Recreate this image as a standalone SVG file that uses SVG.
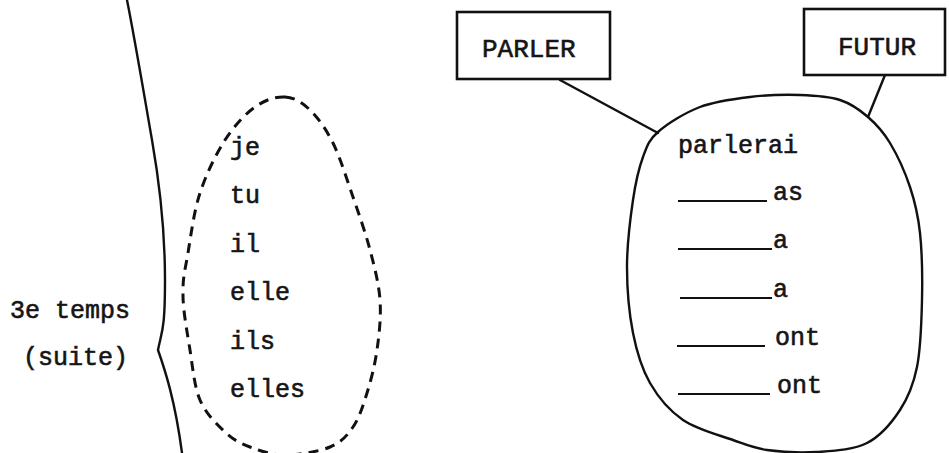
<svg xmlns="http://www.w3.org/2000/svg" width="949" height="453" viewBox="0 0 949 453">
<style>
  .t { font-family: "Liberation Mono", "Courier New", monospace; font-size: 25px; fill: #151515; stroke: #151515; stroke-width: 0.6; }
  .ln { fill: none; stroke: #111; stroke-width: 2.4; stroke-linecap: round; stroke-linejoin: round; }
  .dash { fill: none; stroke: #111; stroke-width: 3; stroke-dasharray: 10 7; stroke-linecap: butt; }
  .box { fill: #fff; stroke: #111; stroke-width: 2.6; }
  .blank { stroke: #111; stroke-width: 2; }
</style>
<rect width="949" height="453" fill="#fff"/>

<g id="bracket">
  <path class="ln" d="M127,0 C135,40 145,100 152,140 S165,230 165,280 S162,330 158,350 C165,370 175,400 182,453"/>
  <text class="t" x="10" y="318">3e temps</text>
  <text class="t" x="23" y="365">(suite)</text>
</g>

<g id="pronouns">
  <path class="dash" d="M285,97 C294.2,97.5 302,102.3 310,110 C318,117.7 325.8,128.5 333,143 C340.2,157.5 346.8,179.2 353,197 C359.2,214.8 365.5,232.8 370,250 C374.5,267.2 378.8,283.3 380,300 C381.2,316.7 379.2,334.5 377,350 C374.8,365.5 371,380.2 367,393 C363,405.8 359.2,418 353,427 C346.8,436 341.3,442.3 330,447 C318.7,451.7 298.3,455 285,455 C271.7,455 260,450.8 250,447 C240,443.2 233.3,439.8 225,432 C216.7,424.2 205.8,413.7 200,400 C194.2,386.3 192.8,367.8 190,350 C187.2,332.2 182.7,309.2 183,293 C182.7,276.8 185.2,269.7 188,253 C190.8,236.3 193.8,211.8 200,193 C206.2,174.2 215.8,154.3 225,140 C234.2,125.7 245,114.2 255,107 C265,99.8 275.8,96.5 285,97 Z"/>
  <text class="t" x="230" y="155">je</text>
  <text class="t" x="230" y="203">tu</text>
  <text class="t" x="230" y="252">il</text>
  <text class="t" x="230" y="300">elle</text>
  <text class="t" x="230" y="349">ils</text>
  <text class="t" x="230" y="397">elles</text>
</g>

<g id="connectors">
  <line class="ln" x1="560" y1="80" x2="658" y2="133"/>
  <line class="ln" x1="885" y1="75" x2="868" y2="117"/>
</g>

<g id="parler">
  <rect class="box" x="457" y="12" width="153" height="67"/>
  <text class="t" x="482" y="57" style="font-size:26px">PARLER</text>
</g>

<g id="futur">
  <rect class="box" x="804" y="9" width="141" height="66"/>
  <text class="t" x="838" y="55" style="font-size:26px">FUTUR</text>
</g>

<g id="conjugation">
  <path class="ln" d="M658,132 C667.5,123.7 684.7,112.8 700,107 C715.3,101.2 733.3,99 750,97 C766.7,95 785,94.5 800,95 C815,95.5 828.7,96.3 840,100 C851.3,103.7 859.7,109.8 868,117 C876.3,124.2 883,131.3 890,143 C897,154.7 905,172 910,187 C915,202 918,214.2 920,233 C922,251.8 922.5,277.7 922,300 C921.5,322.3 920.7,348.7 917,367 C913.3,385.3 908.3,397.3 900,410 C891.7,422.7 880.8,436 867,443 C853.2,450 833.7,450.8 817,452 C800.3,453 781,452 767,450 C753,448 747,445 733,440 C719,435 696.8,429.5 683,420 C669.2,410.5 658.3,397.5 650,383 C641.7,368.5 636.8,352.3 633,333 C629.2,313.7 627,289.2 627,267 C627,244.8 630.3,218.3 633,200 C635.7,181.7 638.8,168.3 643,157 C647.2,145.7 648.5,140.3 658,132 Z"/>
  <text class="t" x="678" y="153">parlerai</text>
  <line class="blank" x1="678" y1="201" x2="767" y2="201"/>
  <text class="t" x="773" y="200">as</text>
  <line class="blank" x1="678" y1="249" x2="772" y2="249"/>
  <text class="t" x="773" y="248">a</text>
  <line class="blank" x1="680" y1="298" x2="772" y2="298"/>
  <text class="t" x="773" y="297">a</text>
  <line class="blank" x1="677" y1="346" x2="765" y2="346"/>
  <text class="t" x="775" y="345">ont</text>
  <line class="blank" x1="678" y1="394" x2="770" y2="394"/>
  <text class="t" x="777" y="393">ont</text>
</g>
</svg>
